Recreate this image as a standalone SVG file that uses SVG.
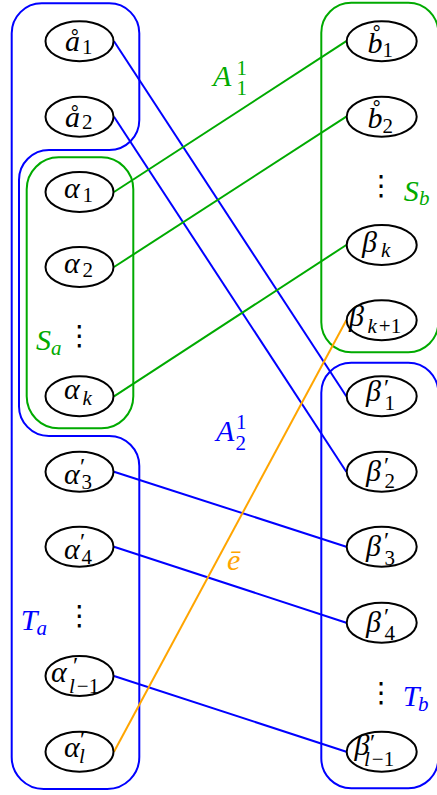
<svg xmlns="http://www.w3.org/2000/svg" width="437" height="795" viewBox="0 0 437 795">
<style>
.t { font-family: "Liberation Serif", "DejaVu Serif", serif; font-style: italic; font-size: 30px; fill: #000; }
.s { font-size: 21px; }
.p { font-size: 24px; font-style: normal; }
.u { font-style: normal; }
.dots { font-family: "DejaVu Sans", sans-serif; font-size: 28px; fill: #000; text-anchor: middle; }
.nd { fill: #fff; stroke: #000; stroke-width: 2; }
.ob { fill: none; stroke: #0000ff; stroke-width: 2; }
.og { fill: none; stroke: #00aa00; stroke-width: 2; }
.cb { stroke: #0000ff; stroke-width: 2; fill: none; }
.cg { stroke: #00aa00; stroke-width: 2; fill: none; }
.co { stroke: #ffa500; stroke-width: 2; fill: none; }
.lb { fill: #0000ff; }
.lg { fill: #00aa00; }
.lo { fill: #ffa500; }
</style>
<rect width="437" height="795" fill="#fff"/>

<g id="set-Ta">
<path class="ob" d="M 41.7 3.3 H 109.3 A 30 30 0 0 1 139.3 33.3 V 120 A 30 30 0 0 1 109.3 150 H 49 A 30 30 0 0 0 19 180 V 405 A 30 30 0 0 0 49 436 H 109.3 A 30 30 0 0 1 139.3 466 V 757 A 32 32 0 0 1 107.3 789 H 43.7 A 32 32 0 0 1 11.7 757 V 33.3 A 30 30 0 0 1 41.7 3.3 Z"/>
<text class="t lb"><tspan x="20.7" y="630">T</tspan><tspan class="s" x="36.5" y="635">a</tspan></text>
</g>
<g id="set-Sa">
<rect class="og" x="26.7" y="157.3" width="106.6" height="271" rx="32" ry="32"/>
<text class="t lg"><tspan x="36" y="350">S</tspan><tspan class="s" x="51" y="355">a</tspan></text>
</g>
<g id="set-Sb">
<rect class="og" x="321.3" y="2.7" width="117" height="349.6" rx="30" ry="30"/>
<text class="t lg"><tspan x="403.7" y="201">S</tspan><tspan class="s" x="419" y="205">b</tspan></text>
</g>
<g id="set-Tb">
<rect class="ob" x="321.3" y="362.7" width="117" height="425.6" rx="30" ry="30"/>
<text class="t lb"><tspan x="402.7" y="706">T</tspan><tspan class="s" x="418" y="711">b</tspan></text>
</g>

<g id="connectors">
<line class="cb" x1="114" y1="41.2" x2="346.3" y2="396.3"/>
<line class="cb" x1="114" y1="116.7" x2="346.3" y2="471.7"/>
<line class="cb" x1="114" y1="471.7" x2="346.3" y2="546.7"/>
<line class="cb" x1="114" y1="546.7" x2="346.3" y2="622.7"/>
<line class="cb" x1="114" y1="676" x2="346.3" y2="751.7"/>
<line class="cg" x1="114" y1="192" x2="346.3" y2="41.2"/>
<line class="cg" x1="114" y1="267" x2="346.3" y2="116.7"/>
<line class="cg" x1="114" y1="396.3" x2="346.3" y2="245"/>
<line class="co" x1="114" y1="751.7" x2="346.3" y2="320.3"/>
<text class="t lg"><tspan x="213" y="86">A</tspan><tspan class="s u" x="236.5" y="75">1</tspan><tspan class="s u" x="236.5" y="95">1</tspan></text>
<text class="t lb"><tspan x="216" y="441">A</tspan><tspan class="s u" x="236" y="429">1</tspan><tspan class="s u" x="235.5" y="450">2</tspan></text>
<text class="t lo" x="227" y="570">ē</text>
</g>

<g id="n-a1"><ellipse class="nd" cx="79.5" cy="41.2" rx="34" ry="20"/>
<text class="t"><tspan x="65" y="50.5">å</tspan><tspan class="s u" x="82" y="53.5">1</tspan></text></g>
<g id="n-a2"><ellipse class="nd" cx="79.5" cy="116.7" rx="34" ry="20"/>
<text class="t"><tspan x="65" y="126.5">å</tspan><tspan class="s u" x="82" y="129">2</tspan></text></g>
<g id="n-alpha1"><ellipse class="nd" cx="79.5" cy="192" rx="34" ry="20"/>
<text class="t"><tspan x="64" y="198">α</tspan><tspan class="s u" x="82.5" y="202">1</tspan></text></g>
<g id="n-alpha2"><ellipse class="nd" cx="79.5" cy="267" rx="34" ry="20"/>
<text class="t"><tspan x="64" y="273">α</tspan><tspan class="s u" x="82.5" y="277">2</tspan></text></g>
<g id="n-alphak"><ellipse class="nd" cx="79.5" cy="396.3" rx="34" ry="20"/>
<text class="t"><tspan x="64" y="399">α</tspan><tspan class="s" x="82.5" y="405">k</tspan></text></g>
<text class="dots" x="79.5" y="345">⋮</text>

<g id="n-alphap3"><ellipse class="nd" cx="79.5" cy="471.7" rx="34" ry="20"/>
<text class="t"><tspan x="64" y="484">α</tspan><tspan class="p" x="80" y="474">′</tspan><tspan class="s u" x="81.5" y="488.5">3</tspan></text></g>
<g id="n-alphap4"><ellipse class="nd" cx="79.5" cy="546.7" rx="34" ry="20"/>
<text class="t"><tspan x="64" y="559">α</tspan><tspan class="p" x="80" y="549">′</tspan><tspan class="s u" x="81.5" y="563.5">4</tspan></text></g>
<text class="dots" x="79.5" y="625">⋮</text>
<g id="n-alphapl1"><ellipse class="nd" cx="79.5" cy="676" rx="34" ry="20"/>
<text class="t"><tspan x="51" y="682">α</tspan><tspan class="p" x="73" y="673">′</tspan><tspan class="s" x="69" y="693">l</tspan><tspan class="s u" dx="2">−1</tspan></text></g>
<g id="n-alphapl"><ellipse class="nd" cx="79.5" cy="751.7" rx="34" ry="20"/>
<text class="t"><tspan x="64" y="757">α</tspan><tspan class="p" x="80" y="746.5">′</tspan><tspan class="s" x="79" y="763">l</tspan></text></g>

<g id="n-b1"><ellipse class="nd" cx="381.7" cy="41.2" rx="35" ry="20"/>
<text class="t"><tspan x="367.5" y="53.3">b̊</tspan><tspan class="s u" x="382.5" y="57">1</tspan></text></g>
<g id="n-b2"><ellipse class="nd" cx="381.7" cy="116.7" rx="35" ry="20"/>
<text class="t"><tspan x="367.5" y="128.3">b̊</tspan><tspan class="s u" x="382.5" y="133">2</tspan></text></g>
<text class="dots" x="381.3" y="195">⋮</text>
<g id="n-betak"><ellipse class="nd" cx="381.7" cy="245" rx="35" ry="20"/>
<text class="t"><tspan x="362" y="252">β</tspan><tspan class="s" x="381" y="257">k</tspan></text></g>
<g id="n-betak1"><ellipse class="nd" cx="381.7" cy="320.3" rx="35" ry="20"/>
<text class="t"><tspan x="349" y="326">β</tspan><tspan class="s" x="367.5" y="333">k</tspan><tspan class="s u" dx="2">+1</tspan></text></g>
<g id="n-betap1"><ellipse class="nd" cx="381.7" cy="396.3" rx="35" ry="20"/>
<text class="t"><tspan x="366" y="401">β</tspan><tspan class="p" x="384" y="395">′</tspan><tspan class="s u" x="384.5" y="410">1</tspan></text></g>
<g id="n-betap2"><ellipse class="nd" cx="381.7" cy="471.7" rx="35" ry="20"/>
<text class="t"><tspan x="366" y="481">β</tspan><tspan class="p" x="384" y="473">′</tspan><tspan class="s u" x="384.5" y="488">2</tspan></text></g>
<g id="n-betap3"><ellipse class="nd" cx="381.7" cy="546.7" rx="35" ry="20"/>
<text class="t"><tspan x="366" y="556">β</tspan><tspan class="p" x="384" y="548">′</tspan><tspan class="s u" x="384.5" y="565">3</tspan></text></g>
<g id="n-betap4"><ellipse class="nd" cx="381.7" cy="622.7" rx="35" ry="20"/>
<text class="t"><tspan x="366" y="632">β</tspan><tspan class="p" x="384" y="624">′</tspan><tspan class="s u" x="384.5" y="640">4</tspan></text></g>
<text class="dots" x="381.3" y="702">⋮</text>
<g id="n-betapl1"><ellipse class="nd" cx="381.7" cy="751.7" rx="35" ry="20"/>
<text class="t"><tspan x="354.5" y="755">β</tspan><tspan class="p" x="370" y="750">′</tspan><tspan class="s" x="364" y="766">l</tspan><tspan class="s u" dx="2">−1</tspan></text></g>
</svg>
